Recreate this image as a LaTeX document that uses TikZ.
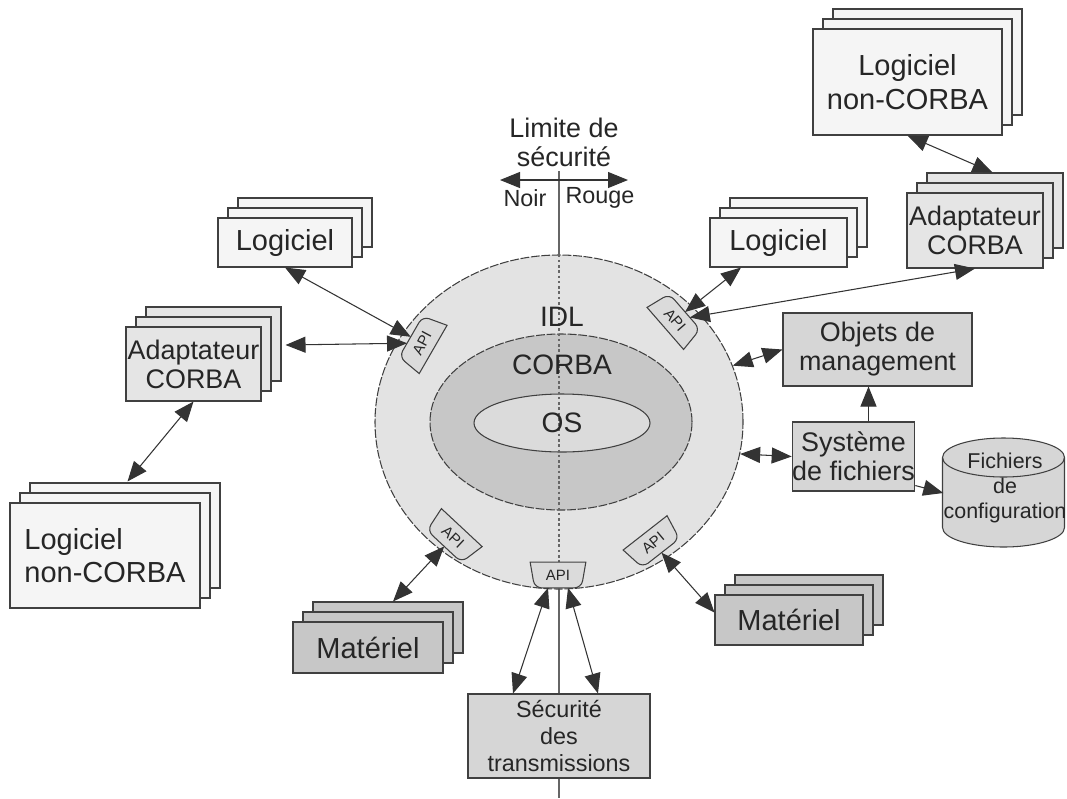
\documentclass[tikz,border=0pt]{standalone}
\usepackage{fontspec}
\setmainfont{Liberation Sans}
\usetikzlibrary{arrows.meta,shapes.geometric,shadows,calc}

\definecolor{ringgray}{gray}{0.89}
\definecolor{corbagray}{gray}{0.78}
\definecolor{osgray}{gray}{0.86}
\definecolor{softgray}{gray}{0.96}
\definecolor{adagray}{gray}{0.90}
\definecolor{hwgray}{gray}{0.78}
\definecolor{mgtgray}{gray}{0.84}
\definecolor{tabgray}{gray}{0.86}

\newcommand\bigtxt{\fontsize{16.5}{19}\selectfont}
\newcommand\midtxt{\fontsize{15.3}{16.5}\selectfont}
\newcommand\smltxt{\fontsize{13.3}{15.3}\selectfont}
\newcommand\cfgtxt{\fontsize{12.2}{14.2}\selectfont}

\tikzset{
  box/.style={draw=black!75, line width=0.6pt, text=black!85, inner sep=0pt, align=center},
  stack/.style={box, double copy shadow={shadow xshift=0.2cm, shadow yshift=0.2cm}},
  lbl/.style={text=black!85, inner sep=0pt, align=center},
  link/.style={{Triangle[length=4mm,width=3.2mm]}-{Triangle[length=4mm,width=3.2mm]}, line width=0.6pt, draw=black!80},
  onelink/.style={-{Triangle[length=4mm,width=3.2mm]}, line width=0.6pt, draw=black!80},
  tabbox/.style={rectangle, minimum width=1.1cm, minimum height=0.5cm, inner sep=0pt},
  tabline/.style={draw=black!75, line width=0.6pt, fill=tabgray},
  apitext/.style={font=\fontsize{8.5}{9}\selectfont, text=black!85, inner sep=0pt},
  borderline/.style={draw=black!60, line width=0.7pt}
}

% API tab on the IDL ring: name, position, shape angle, text angle
\newcommand\apitab[4]{%
  \node[tabbox, rotate=#3] (#1) at (#2) {};
  \draw[tabline] (#1.north west) -- (#1.north east)
    [rounded corners=4pt] -- ($(#1.south east)!.08!(#1.south west)$)
    -- ($(#1.south west)!.08!(#1.south east)$) [sharp corners] -- cycle;
  \node[apitext, rotate=#4] at (#1) {API};
}

\begin{document}
\begin{tikzpicture}
    \useasboundingbox (0,0) rectangle (21.34,-15.96);

    % security limit
    \coordinate (bordtop) at (11.18,-3.42);
    \coordinate (bordbot) at (11.18,-15.96);
    \draw[borderline] (bordtop) -- (bordbot);
    \node[lbl, font=\midtxt] (lim) at (11.28,-2.84) {Limite de\\sécurité};
    \coordinate (lw) at (10.0,-3.6);
    \coordinate (le) at (12.56,-3.6);
    \draw[link] (lw) -- (le);
    \node[lbl, font=\smltxt] (noir) at (10.5,-3.96) {Noir};
    \node[lbl, font=\smltxt] (rouge) at (12.0,-3.96) {Rouge};

    % IDL ring with CORBA and OS
    \node[ellipse, minimum width=7.36cm, minimum height=6.68cm, fill=ringgray,
          draw=black!75, line width=0.6pt, dash pattern=on 5pt off 1pt] (idl) at (11.18,-8.44) {};
    \node[ellipse, minimum width=5.24cm, minimum height=3.52cm, fill=corbagray,
          draw=black!75, line width=0.6pt, dash pattern=on 5pt off 1pt] (corba) at (11.22,-8.44) {};
    \node[ellipse, minimum width=3.52cm, minimum height=1.16cm, fill=osgray,
          draw=black!75, line width=0.6pt] (os) at (11.24,-8.46) {};
    \draw[black!60, line width=0.8pt, dash pattern=on 1.5pt off 1.5pt] (idl.north) -- (idl.south);
    \node[lbl, font=\fontsize{16}{18}\selectfont] at (11.24,-6.34) {IDL};
    \node[lbl, font=\fontsize{16}{18}\selectfont] at (11.24,-7.3) {CORBA};
    \node[lbl, font=\fontsize{16}{18}\selectfont] at (os) {OS};

    \apitab{apiUL}{8.44,-6.86}{240}{62}
    \apitab{apiUR}{13.5,-6.4}{131}{-49}
    \apitab{apiLL}{9.06,-10.74}{-43}{-43}
    \apitab{apiLR}{13.06,-10.86}{38}{40}
    \apitab{apiB}{11.16,-11.5}{0}{0}

    % left side
    \node[stack, fill=softgray, font=\bigtxt, minimum width=2.68cm, minimum height=0.98cm] (logL) at (5.7,-4.85) {Logiciel};
    \node[stack, fill=adagray, font=\midtxt, minimum width=2.7cm, minimum height=1.48cm] (adaL) at (3.87,-7.28) {Adaptateur\\CORBA};
    \node[stack, fill=softgray, font=\bigtxt, align=left, minimum width=3.8cm, minimum height=2.1cm] (ncL) at (2.1,-11.11) {Logiciel\\non-CORBA};
    \node[stack, fill=hwgray, font=\bigtxt, minimum width=3.0cm, minimum height=1.02cm] (matL) at (7.36,-12.95) {Matériel};

    % bottom
    \node[box, fill=mgtgray, font=\smltxt, minimum width=3.64cm, minimum height=1.68cm] (secu) at (11.18,-14.72) {Sécurité\\des\\transmissions};

    % right side
    \node[stack, fill=hwgray, font=\bigtxt, minimum width=2.96cm, minimum height=1.0cm] (matR) at (15.78,-12.4) {Matériel};
    \node[stack, fill=softgray, font=\bigtxt, minimum width=2.74cm, minimum height=0.98cm] (logR) at (15.57,-4.85) {Logiciel};
    \node[stack, fill=adagray, font=\midtxt, minimum width=2.72cm, minimum height=1.5cm] (adaR) at (19.5,-4.61) {Adaptateur\\CORBA};
    \node[stack, fill=softgray, font=\bigtxt, minimum width=3.78cm, minimum height=2.12cm] (ncR) at (18.15,-1.64) {Logiciel\\non-CORBA};
    \node[box, fill=mgtgray, font=\midtxt, minimum width=3.78cm, minimum height=1.46cm] (objm) at (17.55,-6.99) {Objets de\\management};
    \node[box, fill=mgtgray, font=\midtxt, minimum width=2.38cm, minimum height=1.38cm] (sysf) at (17.07,-9.13) {Système\\de fichiers};

    % config files drum
    \draw[box, fill=mgtgray] (18.85,-9.15) -- (18.85,-10.55)
      arc[start angle=180, end angle=360, x radius=1.22, y radius=0.39] -- (21.29,-9.15)
      arc[start angle=0, end angle=180, x radius=1.22, y radius=0.39] -- cycle;
    \draw[box] (18.85,-9.15) arc[start angle=180, end angle=360, x radius=1.22, y radius=0.39];
    \node[lbl, font=\cfgtxt, minimum width=2.44cm] (cfg) at (20.1,-9.76) {Fichiers\\de\\configuration};

    % links
    \draw[link] (logL.south) -- (apiUL);
    \draw[link] ([shift={(0.48,0.38)}]adaL.east) -- (apiUL);
    \draw[link] (adaL.south) -- ([shift={(0.45,0.42)}]ncL.north);
    \draw[link] (ncR.south) -- ([shift={(0.35,0.4)}]adaR.north);
    \draw[link] ([xshift=-0.75cm]logR.south) -- (apiUR);
    \draw[link] (adaR.south) -- (apiUR);
    \draw[link] (objm.west) -- (idl);
    \draw[link] (sysf.west) -- (idl.-10);
    \draw[onelink] ([xshift=0.3cm]sysf.north) -- ([xshift=0.3cm]sysf.north |- objm.south);
    \draw[onelink] ([yshift=0.12cm]sysf.south east) -- ([yshift=-0.1cm]cfg.west);
    \draw[link] ([shift={(0.5,0.4)}]matL.north) -- (apiLL);
    \draw[link] ([yshift=0.15cm]matR.west) -- (apiLR);
    \draw[link] ([xshift=-0.92cm]secu.north) -- ([xshift=-0.2cm]apiB.south);
    \draw[link] ([xshift=0.78cm]secu.north) -- ([xshift=0.2cm]apiB.south);
\end{tikzpicture}
\end{document}
